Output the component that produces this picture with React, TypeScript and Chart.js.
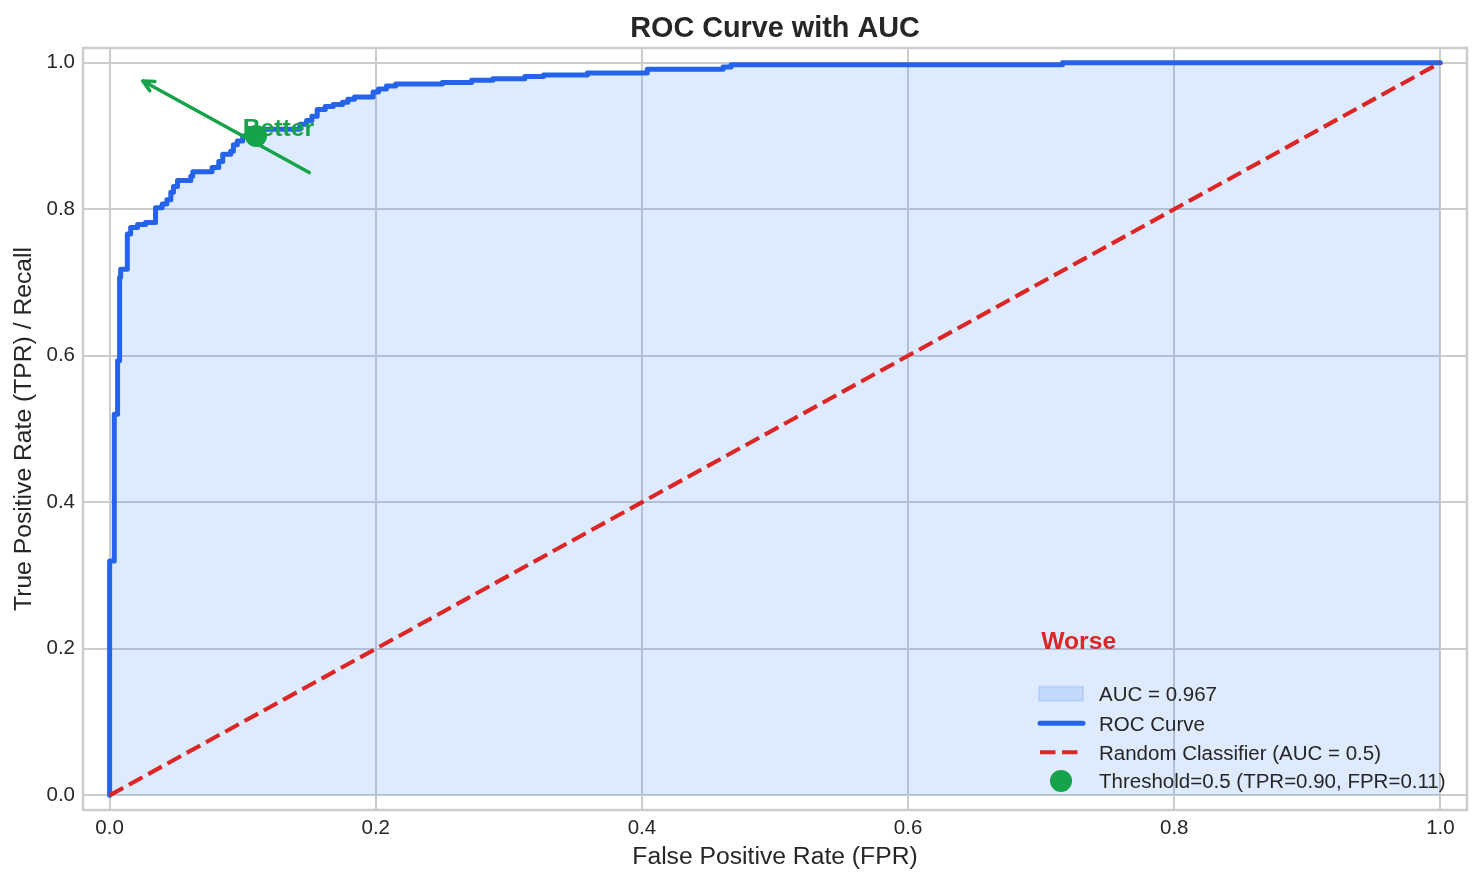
import React, { useEffect, useRef } from "react";
import { Chart, registerables } from "chart.js";

Chart.register(...registerables);

// ---------- DATA ----------
const titleText = "ROC Curve with AUC";
const xAxisLabel = "False Positive Rate (FPR)";
const yAxisLabel = "True Positive Rate (TPR) / Recall";

const rocFpr = [
  0, 0, 0.0035, 0.0035, 0.006, 0.006, 0.0075, 0.0075, 0.0083, 0.0083,
  0.0133, 0.0133, 0.0158, 0.0158, 0.021, 0.021, 0.027, 0.027, 0.0345, 0.0345,
  0.0395, 0.0395, 0.043, 0.043, 0.046, 0.046, 0.048, 0.048, 0.051, 0.051,
  0.061, 0.061, 0.0625, 0.0625, 0.077, 0.077, 0.082, 0.082, 0.085, 0.085,
  0.091, 0.091, 0.093, 0.093, 0.096, 0.096, 0.1, 0.1, 0.115, 0.115,
  0.143, 0.143, 0.148, 0.148, 0.152, 0.152, 0.156, 0.156, 0.162, 0.162,
  0.168, 0.168, 0.175, 0.175, 0.179, 0.179, 0.184, 0.184, 0.198, 0.198,
  0.202, 0.202, 0.208, 0.208, 0.215, 0.215, 0.25, 0.25, 0.272, 0.272,
  0.288, 0.288, 0.312, 0.312, 0.326, 0.326, 0.359, 0.359, 0.404, 0.404,
  0.461, 0.461, 0.467, 0.467, 0.716, 0.716, 1.0,
];
const rocTpr = [
  0, 0.32, 0.32, 0.52, 0.52, 0.593, 0.593, 0.707, 0.707, 0.718,
  0.718, 0.766, 0.766, 0.775, 0.775, 0.779, 0.779, 0.782, 0.782, 0.802,
  0.802, 0.807, 0.807, 0.813, 0.813, 0.823, 0.823, 0.831, 0.831, 0.839,
  0.839, 0.845, 0.845, 0.851, 0.851, 0.857, 0.857, 0.865, 0.865, 0.875,
  0.875, 0.879, 0.879, 0.888, 0.888, 0.893, 0.893, 0.9, 0.9, 0.909,
  0.909, 0.916, 0.916, 0.921, 0.921, 0.927, 0.927, 0.936, 0.936, 0.94,
  0.94, 0.943, 0.943, 0.946, 0.946, 0.95, 0.95, 0.953, 0.953, 0.96,
  0.96, 0.964, 0.964, 0.968, 0.968, 0.971, 0.971, 0.973, 0.973, 0.976,
  0.976, 0.978, 0.978, 0.981, 0.981, 0.983, 0.983, 0.986, 0.986, 0.991,
  0.991, 0.994, 0.994, 0.997, 0.997, 1.0, 1.0,
];

const randomFpr = [0, 1];
const randomTpr = [0, 1];

const thresholdFpr = [0.11];
const thresholdTpr = [0.9];

const tickValues = [0, 0.2, 0.4, 0.6, 0.8, 1.0];

const aucLabel = "AUC = 0.967";
const rocLabel = "ROC Curve";
const randomLabel = "Random Classifier (AUC = 0.5)";
const thresholdLabel = "Threshold=0.5 (TPR=0.90, FPR=0.11)";

const betterText = "Better";
const betterPos = [0.1, 0.9];
const arrowFrom = [0.15, 0.85];
const arrowTo = [0.025, 0.975];
const worseText = "Worse";
const worsePos = [0.7, 0.2];

// ---------- STYLE ----------
const FONT = '"Liberation Sans", Arial, Helvetica, sans-serif';
const TEXT = "#262626";
const BLUE = "#2563eb";
const FILL = "rgba(59,130,246,0.17)";
const RED = "#dc2626";
const GREEN = "#16a34a";
const GRID = "#cccccc";

const annotationsPlugin = {
  id: "rocAnnotations",
  afterDatasetsDraw(chart: any) {
    const ctx = chart.ctx;
    const xs = chart.scales.x;
    const ys = chart.scales.y;
    ctx.save();
    // arrow
    const x1 = xs.getPixelForValue(arrowFrom[0]);
    const y1 = ys.getPixelForValue(arrowFrom[1]);
    const x2 = xs.getPixelForValue(arrowTo[0]);
    const y2 = ys.getPixelForValue(arrowTo[1]);
    ctx.strokeStyle = GREEN;
    ctx.lineWidth = 3.5;
    ctx.lineCap = "round";
    ctx.lineJoin = "round";
    ctx.beginPath();
    ctx.moveTo(x1, y1);
    ctx.lineTo(x2, y2);
    ctx.stroke();
    const ang = Math.atan2(y2 - y1, x2 - x1);
    const hl = 12;
    const spread = 0.45;
    ctx.beginPath();
    ctx.moveTo(x2 - hl * Math.cos(ang - spread), y2 - hl * Math.sin(ang - spread));
    ctx.lineTo(x2, y2);
    ctx.lineTo(x2 - hl * Math.cos(ang + spread), y2 - hl * Math.sin(ang + spread));
    ctx.stroke();
    // texts
    ctx.font = `bold 24.7px ${FONT}`;
    ctx.textBaseline = "alphabetic";
    ctx.textAlign = "left";
    ctx.fillStyle = GREEN;
    ctx.fillText(betterText, xs.getPixelForValue(betterPos[0]), ys.getPixelForValue(betterPos[1]));
    ctx.fillStyle = RED;
    ctx.fillText(worseText, xs.getPixelForValue(worsePos[0]), ys.getPixelForValue(worsePos[1]));
    ctx.restore();
  },
  afterDraw(chart: any) {
    const ctx = chart.ctx;
    const area = chart.chartArea;
    const ds = chart.data.datasets;
    ctx.save();
    // frame
    ctx.strokeStyle = GRID;
    ctx.lineWidth = 2.5;
    ctx.strokeRect(area.left, area.top, area.right - area.left, area.bottom - area.top);
    // title
    ctx.font = `bold 28.8px ${FONT}`;
    ctx.fillStyle = TEXT;
    ctx.textAlign = "center";
    ctx.textBaseline = "alphabetic";
    ctx.fillText(titleText, (area.left + area.right) / 2, 37);
    // legend
    const textX = area.right - 368;
    const symX = area.right - 428;
    const symW = 44;
    const baselines = [area.bottom - 109, area.bottom - 79.5, area.bottom - 50.5, area.bottom - 21.8];
    ctx.font = `20.5px ${FONT}`;
    ctx.textAlign = "left";
    for (let i = 0; i < 4; i++) {
      const d = ds[i];
      const by = baselines[i];
      const cy = by - 7.3;
      if (i === 0) {
        ctx.fillStyle = d.backgroundColor;
        ctx.fillRect(symX, cy - 7, symW, 14);
        ctx.strokeStyle = d.backgroundColor;
        ctx.lineWidth = 2;
        ctx.strokeRect(symX, cy - 7, symW, 14);
      } else if (i === 1 || i === 2) {
        ctx.strokeStyle = d.borderColor;
        ctx.lineWidth = d.borderWidth;
        ctx.lineCap = i === 1 ? "round" : "butt";
        ctx.setLineDash(d.borderDash || []);
        ctx.beginPath();
        ctx.moveTo(symX + 1, cy);
        ctx.lineTo(symX + symW, cy);
        ctx.stroke();
        ctx.setLineDash([]);
      } else {
        ctx.fillStyle = d.backgroundColor;
        ctx.beginPath();
        ctx.arc(symX + symW / 2, cy, d.pointRadius, 0, Math.PI * 2);
        ctx.fill();
      }
      ctx.fillStyle = TEXT;
      ctx.fillText(d.label, textX, by);
    }
    ctx.restore();
  },
};

export default function App() {
  const canvasRef = useRef<HTMLCanvasElement | null>(null);

  useEffect(() => {
    const canvas = canvasRef.current;
    if (!canvas) return;
    const rocData = rocFpr.map((x, i) => ({ x, y: rocTpr[i] }));
    const randomData = randomFpr.map((x, i) => ({ x, y: randomTpr[i] }));
    const thresholdData = thresholdFpr.map((x, i) => ({ x, y: thresholdTpr[i] }));

    const setTicks = (scale: any) => {
      scale.ticks = tickValues.map((v) => ({ value: v }));
    };

    const chart = new Chart(canvas, {
      type: "line",
      data: {
        datasets: [
          {
            label: aucLabel,
            data: rocData,
            borderWidth: 0,
            borderColor: "rgba(0,0,0,0)",
            backgroundColor: FILL,
            fill: "origin",
            pointRadius: 0,
            order: 4,
          },
          {
            label: rocLabel,
            data: rocData,
            borderColor: BLUE,
            borderWidth: 5,
            borderJoinStyle: "round",
            borderCapStyle: "round",
            fill: false,
            pointRadius: 0,
            order: 3,
          },
          {
            label: randomLabel,
            data: randomData,
            borderColor: RED,
            borderWidth: 4.1,
            borderDash: [15.5, 6.5],
            fill: false,
            pointRadius: 0,
            order: 2,
          },
          {
            label: thresholdLabel,
            data: thresholdData,
            showLine: false,
            backgroundColor: GREEN,
            borderColor: GREEN,
            borderWidth: 0,
            pointRadius: 11,
            pointBorderWidth: 0,
            fill: false,
            order: 1,
          },
        ],
      } as any,
      options: {
        animation: false,
        responsive: false,
        devicePixelRatio: 1,
        events: [],
        layout: { padding: { top: 48, right: 17, bottom: 0, left: 0 } },
        plugins: {
          legend: { display: false },
          title: { display: false },
          tooltip: { enabled: false },
        },
        scales: {
          x: {
            type: "linear",
            min: -0.02,
            max: 1.02,
            afterBuildTicks: setTicks,
            afterFit: (s: any) => {
              s.height = 74;
            },
            grid: { color: GRID, lineWidth: 2, drawTicks: false },
            border: { display: false },
            ticks: {
              padding: 6,
              color: TEXT,
              font: { size: 20.5, family: FONT },
              callback: (v: any) => Number(v).toFixed(1),
              maxRotation: 0,
            },
            title: {
              display: true,
              text: xAxisLabel,
              color: TEXT,
              font: { size: 24.7, family: FONT },
              padding: { top: 0, bottom: 12 },
            },
          },
          y: {
            type: "linear",
            min: -0.02,
            max: 1.02,
            afterBuildTicks: setTicks,
            afterFit: (s: any) => {
              s.width = 83;
            },
            grid: { color: GRID, lineWidth: 2, drawTicks: false },
            border: { display: false },
            ticks: {
              padding: 8,
              color: TEXT,
              font: { size: 20.5, family: FONT },
              callback: (v: any) => Number(v).toFixed(1),
            },
            title: {
              display: true,
              text: yAxisLabel,
              color: TEXT,
              font: { size: 24.7, family: FONT },
              padding: { top: 9, bottom: 0 },
            },
          },
        },
      } as any,
      plugins: [annotationsPlugin],
    });
    return () => chart.destroy();
  }, []);

  return (
    <div style={{ position: "absolute", left: 0, top: 0, width: 1484, height: 884, background: "#ffffff" }}>
      <canvas ref={canvasRef} width={1484} height={884} style={{ display: "block", width: 1484, height: 884 }} />
    </div>
  );
}
